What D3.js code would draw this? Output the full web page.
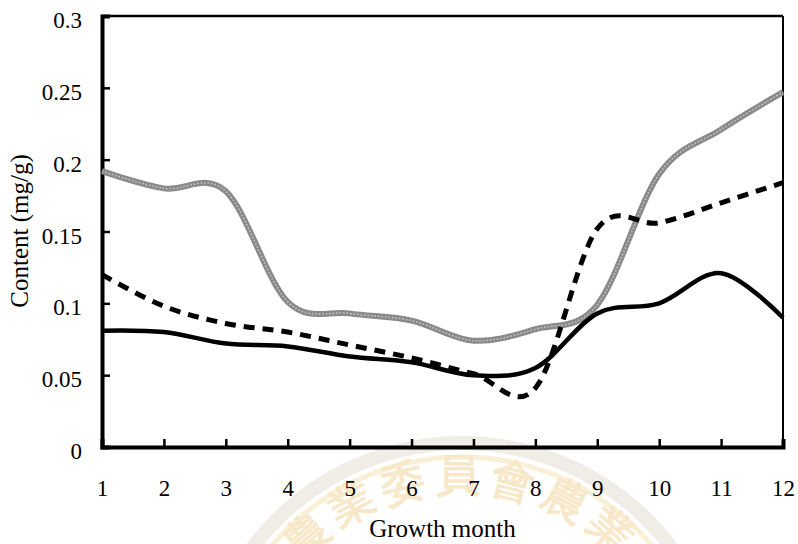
<!DOCTYPE html>
<html>
<head>
<meta charset="utf-8">
<script src="https://cdn.jsdelivr.net/npm/d3@7"></script>
<style>
  body { margin: 0; background: #fff; }
  text { font-family: "Liberation Serif", "DejaVu Serif", serif; }
</style>
</head>
<body>
<div id="chart"></div>
<script>
// months on the x axis
const months = [1, 2, 3, 4, 5, 6, 7, 8, 9, 10, 11, 12];
// series values (mg/g)
const solidSeries = [0.081, 0.080, 0.072, 0.070, 0.063, 0.059, 0.050, 0.055, 0.093, 0.100, 0.121, 0.090];
const dashSeries  = [0.120, 0.098, 0.086, 0.080, 0.071, 0.062, 0.051, 0.041, 0.152, 0.156, 0.170, 0.184];
const graySeries  = [0.192, 0.180, 0.178, 0.101, 0.093, 0.088, 0.074, 0.082, 0.099, 0.190, 0.221, 0.247];
const yTicks = [0, 0.05, 0.1, 0.15, 0.2, 0.25, 0.3];
const watermarkText = '行政院農業委員會農業試驗所';

const width = 798, height = 544;
const margin = { top: 16, right: 15, bottom: 97, left: 102 };
const innerW = width - margin.left - margin.right;
const innerH = height - margin.top - margin.bottom;

const svg = d3.select('#chart').append('svg')
    .attr('width', width)
    .attr('height', height);

// faint seal watermark behind the bottom of the chart
const wm = svg.append('g').attr('opacity', 0.5);
const cx = 462, cy = 705, r = 215;
wm.append('circle')
    .attr('cx', cx).attr('cy', cy).attr('r', 262)
    .attr('fill', 'none').attr('stroke', '#e2dccf').attr('stroke-width', 14);
wm.append('circle')
    .attr('cx', cx).attr('cy', cy).attr('r', 248)
    .attr('fill', 'none').attr('stroke', '#f6e3b0').attr('stroke-width', 5);
svg.append('defs').append('path')
    .attr('id', 'wmArc')
    .attr('d', `M ${cx - r} ${cy} A ${r} ${r} 0 0 1 ${cx + r} ${cy}`);
wm.append('text')
    .attr('font-family', '"Noto Sans CJK TC", sans-serif')
    .attr('font-size', 44)
    .attr('font-weight', 'bold')
    .attr('fill', '#f0d394')
    .append('textPath')
    .attr('href', '#wmArc')
    .attr('startOffset', '50%')
    .attr('text-anchor', 'middle')
    .attr('letter-spacing', 8)
    .text(watermarkText);

const g = svg.append('g')
    .attr('transform', `translate(${margin.left},${margin.top})`);

const x = d3.scaleLinear().domain([1, 12]).range([0, innerW]);
const y = d3.scaleLinear().domain([0, 0.3]).range([innerH, 0]);

// frame (top and right)
g.append('line').attr('x1', 0).attr('x2', innerW).attr('y1', 0).attr('y2', 0)
    .attr('stroke', '#000').attr('stroke-width', 2.5);
g.append('line').attr('x1', innerW).attr('x2', innerW).attr('y1', 0).attr('y2', innerH)
    .attr('stroke', '#000').attr('stroke-width', 2);

// axes with inward ticks
const xAxis = d3.axisBottom(x).tickValues(months).tickSize(-8).tickPadding(35)
    .tickFormat(d3.format('d'));
const yAxis = d3.axisLeft(y).tickValues(yTicks).tickSize(-8).tickPadding(20)
    .tickFormat(d => d === 0 ? '0' : String(+d.toFixed(2)));

const xAxisG = g.append('g').attr('transform', `translate(0,${innerH})`).call(xAxis);
const yAxisG = g.append('g').call(yAxis);

[xAxisG, yAxisG].forEach(a => {
    a.select('.domain').attr('stroke', '#000').attr('stroke-width', 4);
    a.selectAll('.tick line').attr('stroke', '#000').attr('stroke-width', 2.5);
    a.selectAll('.tick text')
        .attr('fill', '#000')
        .style('font-family', '"Liberation Serif", serif')
        .style('font-size', '23px');
});
yAxisG.selectAll('.tick text').attr('dy', '0.5em');
xAxisG.selectAll('.tick text').attr('dy', '0.6em');

// axis titles
svg.append('text')
    .attr('x', margin.left + x(6.5))
    .attr('y', 537)
    .attr('text-anchor', 'middle')
    .style('font-size', '25px')
    .text('Growth month');

svg.append('text')
    .attr('transform', 'translate(28,231) rotate(-90)')
    .attr('text-anchor', 'middle')
    .style('font-size', '25px')
    .text('Content (mg/g)');

// smooth lines
const line = d3.line()
    .x((d, i) => x(months[i]))
    .y(d => y(d))
    .curve(d3.curveCatmullRom.alpha(0));

g.append('path')
    .datum(graySeries)
    .attr('fill', 'none')
    .attr('stroke', '#8a8a8a')
    .attr('stroke-width', 6)
    .attr('d', line);
g.append('path')
    .datum(graySeries)
    .attr('fill', 'none')
    .attr('stroke', '#c8c8c8')
    .attr('stroke-width', 1.5)
    .attr('stroke-dasharray', '1.5,2')
    .attr('d', line);

g.append('path')
    .datum(dashSeries)
    .attr('fill', 'none')
    .attr('stroke', '#000')
    .attr('stroke-width', 5)
    .attr('stroke-dasharray', '11,8')
    .attr('d', line);

g.append('path')
    .datum(solidSeries)
    .attr('fill', 'none')
    .attr('stroke', '#000')
    .attr('stroke-width', 4.5)
    .attr('d', line);
</script>
</body>
</html>
